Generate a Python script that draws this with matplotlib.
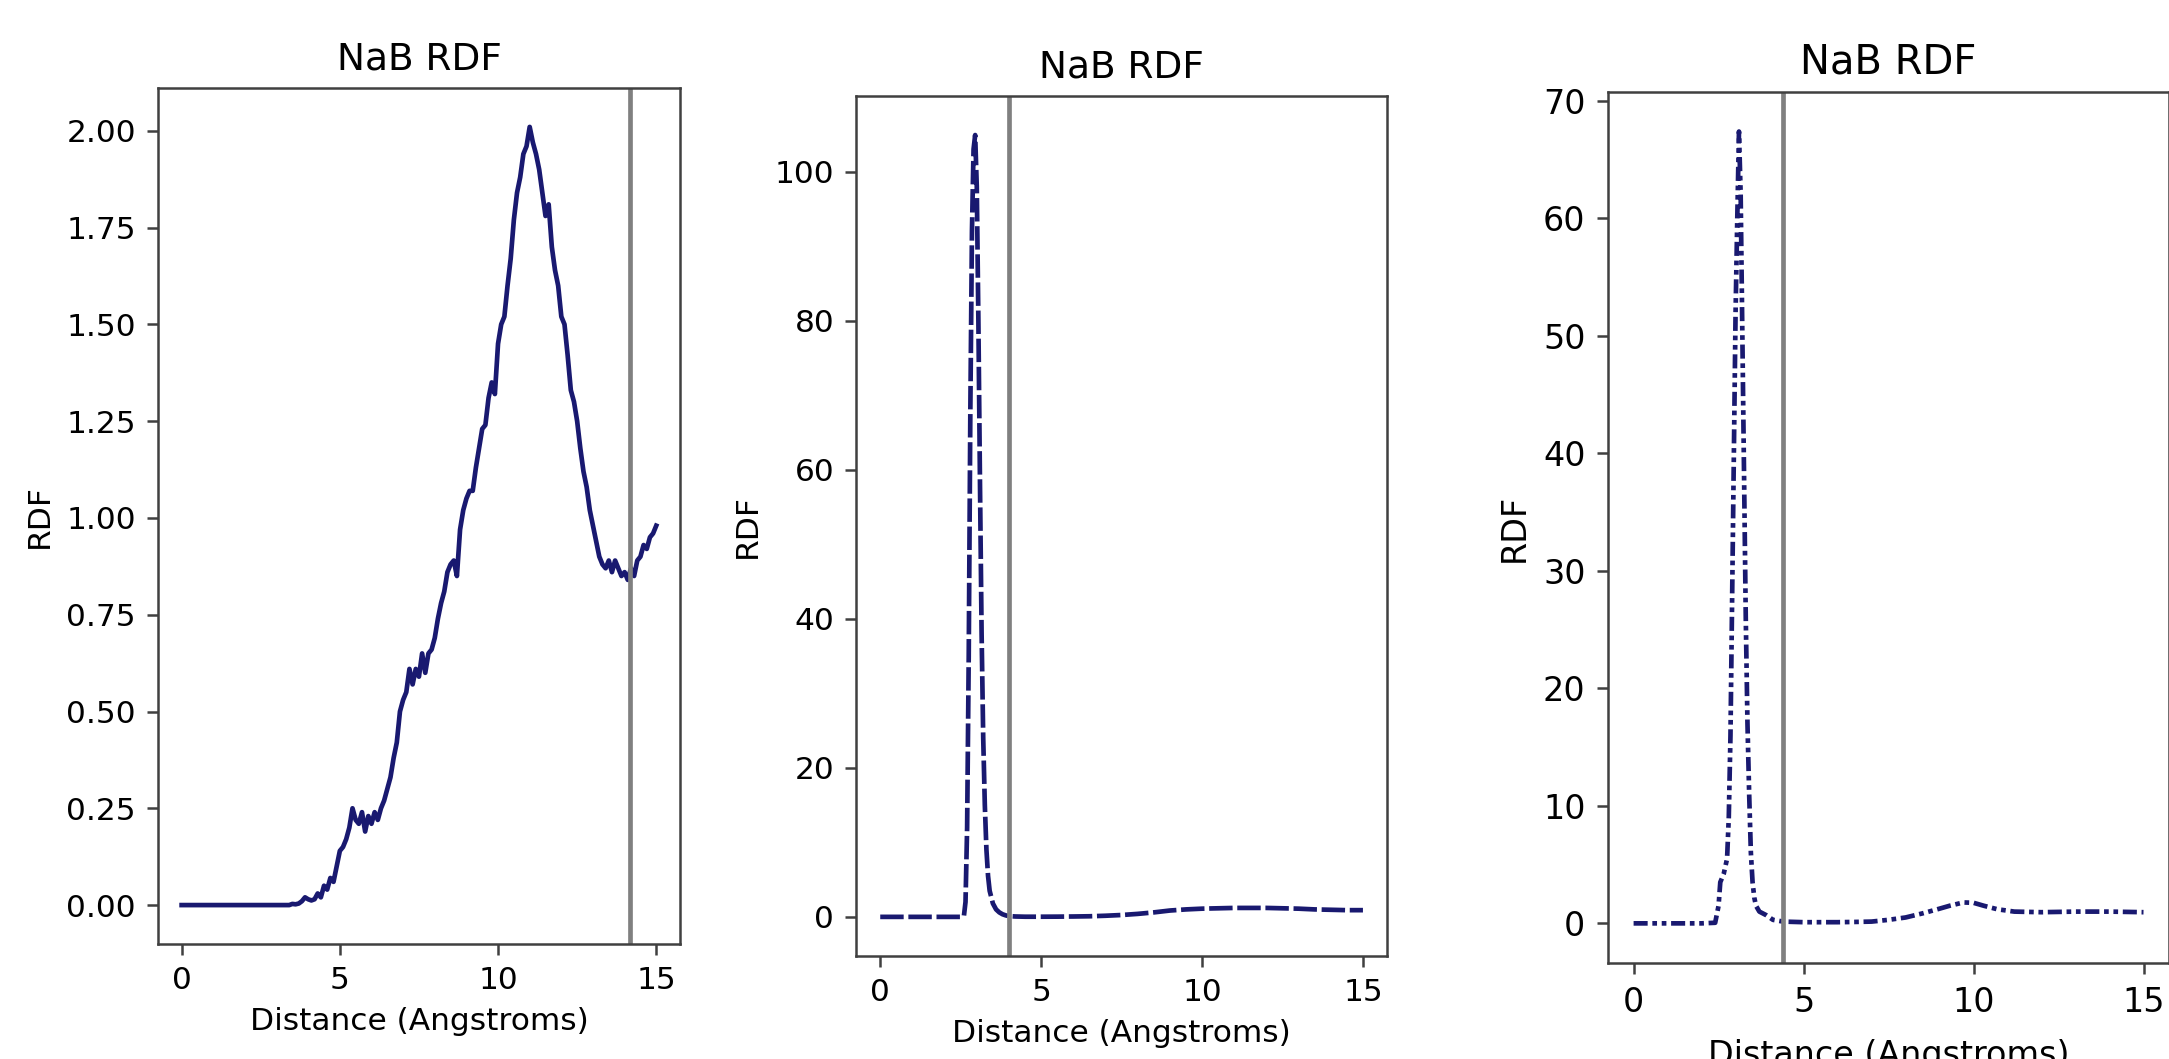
import matplotlib
matplotlib.use("Agg")
import matplotlib.pyplot as plt

# --- data ------------------------------------------------------------------
# panel 1: NaB RDF, solid line, step 0.1 A
r1 = [i / 10 for i in range(151)]
g1 = [0, 0, 0, 0, 0, 0, 0, 0, 0, 0,
      0, 0, 0, 0, 0, 0, 0, 0, 0, 0,
      0, 0, 0, 0, 0, 0, 0, 0, 0, 0,
      0, 0, 0, 0, 0, 0.003, 0.002, 0.004, 0.01, 0.02,
      0.015, 0.012, 0.015, 0.03, 0.02, 0.05, 0.04, 0.07, 0.06, 0.1,
      0.14, 0.15, 0.17, 0.2, 0.25, 0.22, 0.21, 0.24, 0.19, 0.23,
      0.21, 0.24, 0.22, 0.25, 0.27, 0.3, 0.33, 0.38, 0.42, 0.5,
      0.53, 0.55, 0.61, 0.57, 0.61, 0.59, 0.65, 0.6, 0.65, 0.66,
      0.69, 0.74, 0.78, 0.81, 0.86, 0.88, 0.89, 0.85, 0.97, 1.02,
      1.05, 1.07, 1.07, 1.13, 1.18, 1.23, 1.24, 1.31, 1.35, 1.32,
      1.45, 1.5, 1.52, 1.6, 1.67, 1.77, 1.84, 1.88, 1.94, 1.96,
      2.01, 1.97, 1.94, 1.9, 1.84, 1.78, 1.81, 1.7, 1.64, 1.6,
      1.52, 1.5, 1.42, 1.33, 1.3, 1.25, 1.18, 1.12, 1.08, 1.02,
      0.98, 0.94, 0.9, 0.88, 0.87, 0.89, 0.86, 0.89, 0.87, 0.85,
      0.86, 0.84, 0.87, 0.85, 0.89, 0.9, 0.93, 0.92, 0.95, 0.96,
      0.98]
cut1 = 14.18

# panel 2: dashed
r2 = [0.0, 0.5, 1.0, 1.5, 2.0, 2.5, 2.6, 2.65, 2.7, 2.75, 2.8, 2.85, 2.9,
      2.95, 3.0, 3.05, 3.1, 3.15, 3.2, 3.25, 3.3, 3.35, 3.4, 3.5, 3.6, 3.7,
      3.8, 3.9, 4.0, 4.2, 4.5, 5.0, 5.5, 6.0, 6.5, 7.0, 7.5, 8.0, 8.5, 9.0,
      9.5, 10.0, 10.5, 11.0, 11.5, 12.0, 12.5, 13.0, 13.5, 14.0, 14.5, 15.0]
g2 = [0, 0, 0, 0, 0, 0, 0.1, 2, 12, 35, 68, 92, 103,
      104.9, 98, 80, 58, 38, 24, 15, 9, 5.5, 3.5, 1.8, 1.0, 0.6,
      0.35, 0.2, 0.1, 0.05, 0.02, 0.02, 0.03, 0.05, 0.08, 0.15, 0.25, 0.4, 0.6, 0.85,
      1.0, 1.1, 1.15, 1.2, 1.2, 1.2, 1.15, 1.1, 1.0, 0.95, 0.9, 0.9]
cut2 = 4.0

# panel 3: dash-dot-dot
r3 = [0.0, 0.5, 1.0, 1.5, 2.0, 2.4, 2.5, 2.55, 2.65, 2.75, 2.8, 2.85, 2.9,
      2.95, 3.0, 3.05, 3.1, 3.15, 3.2, 3.25, 3.3, 3.35, 3.4, 3.45, 3.5, 3.55,
      3.6, 3.7, 3.9, 4.1, 4.4, 5.0, 5.5, 6.0, 6.5, 7.0, 7.5, 8.0, 8.5, 9.0,
      9.3, 9.7, 10.0, 10.3, 10.7, 11.2, 12.0, 13.0, 14.0, 15.0]
g3 = [0, 0, 0, 0, 0, 0.05, 1.5, 3.5, 4.2, 5.5, 9, 16, 28,
      40, 52, 60, 67.4, 62, 50, 38, 26, 17, 11, 6, 3.5, 2.2,
      1.5, 1.0, 0.7, 0.3, 0.15, 0.1, 0.1, 0.1, 0.12, 0.15, 0.3, 0.5, 0.85, 1.25,
      1.5, 1.78, 1.75, 1.5, 1.2, 1.0, 0.95, 1.0, 1.0, 0.95]
cut3 = 4.39

# (x, y, vline, linestyle, axes rect, text scale)
panels = [
    (r1, g1, cut1, "-", [0.0728, 0.1086, 0.2407, 0.8083], 1.0),
    (r2, g2, cut2, (0, (5, 1)), [0.3947, 0.0973, 0.2448, 0.8121], 1.0),
    (r3, g3, cut3, (0, (3, 1, 1, 1, 1, 1)), [0.7414, 0.0907, 0.2586, 0.8225], 1.07),
]

fig = plt.figure(figsize=(2169 / 225, 1059 / 225), dpi=225)

for r, g, cut, ls, pos, k in panels:
    ax = fig.add_axes(pos)
    ax.plot(r, g, color="midnightblue", linestyle=ls)
    ax.axvline(cut, color="gray")
    ax.set_title("NaB RDF", fontsize=12 * k)
    ax.set_xlabel("Distance (Angstroms)", fontsize=10 * k, labelpad=4 + 6 * (k - 1) / 0.07 * 0.4)
    ax.set_ylabel("RDF", fontsize=10 * k)
    ax.set_xticks([0, 5, 10, 15])
    for s in ax.spines.values():
        s.set_color("#404040")
    ax.tick_params(color="#404040", labelsize=10 * k, pad=3.5 * k)

fig.savefig("out.png", dpi=225)
